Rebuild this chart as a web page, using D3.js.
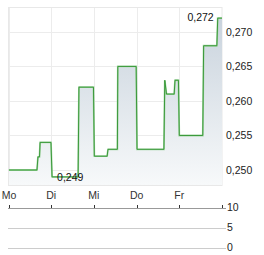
<!DOCTYPE html>
<html>
<head>
<meta charset="utf-8">
<script src="https://cdn.jsdelivr.net/npm/d3@7"></script>
<style>
    body {margin: 0; background: #fff;}
    svg {display: block; font-family: "Liberation Sans", Arial, sans-serif;}
</style>
</head>
<body>
<svg id="chart" width="264" height="255"></svg>
<script>
// day labels, one per trading day
let days = ["Mo", "Di", "Mi", "Do", "Fr"]
// time in fractional days since Monday open
let times = [0.01, 0.667, 0.69, 0.726, 0.74, 0.995, 1.02, 1.63, 1.65, 1.99, 2.01, 2.31, 2.33, 2.55, 2.56, 2.99,
    3.01, 3.64, 3.66, 3.70, 3.88, 3.90, 3.98, 4.0, 4.55, 4.57, 4.88, 4.90, 5.0]
let prices = [0.250, 0.250, 0.2519, 0.2519, 0.254, 0.254, 0.249, 0.249, 0.262, 0.262, 0.252, 0.252, 0.253, 0.253, 0.265, 0.265,
    0.253, 0.253, 0.263, 0.261, 0.261, 0.263, 0.263, 0.255, 0.255, 0.268, 0.268, 0.272, 0.272]
let priceTicks = [0.250, 0.255, 0.260, 0.265, 0.270]
let volumeTicks = [0, 5, 10]
let maxLabel = 0.272
let minLabel = 0.249

let margin = ({top: 7, right: 42, bottom: 70, left: 8})
let width = 264, height = 255
const svg = d3.select("#chart")

let x = d3.scaleLinear()
    .domain([0, 5])
    .range([margin.left + 0.5, 222])
let y = d3.scaleLinear()
    .domain([0.24783, 0.27361])
    .range([185, 7])
let yv = d3.scaleLinear()
    .domain([0, 10])
    .range([247.5, 207.5])

let fmt = v => d3.format(".3f")(v).replace(".", ",")

// gradient for area
let defs = svg.append("defs")
let grad = defs.append("linearGradient")
    .attr("id", "fill").attr("x1", 0).attr("x2", 0).attr("y1", 0).attr("y2", 1)
grad.append("stop").attr("offset", "0%").attr("stop-color", "#c9d3dd")
grad.append("stop").attr("offset", "100%").attr("stop-color", "#f7f9fa")

// grid
svg.append("g")
    .selectAll("line")
    .data(priceTicks)
    .join("line")
    .attr("x1", 8).attr("x2", 222)
    .attr("y1", d => Math.round(y(d)) + 0.5)
    .attr("y2", d => Math.round(y(d)) + 0.5)
    .attr("stroke", "#ececec")

svg.append("g")
    .selectAll("line")
    .data(d3.range(days.length))
    .join("line")
    .attr("x1", d => Math.round(x(d)) + 0.5)
    .attr("x2", d => Math.round(x(d)) + 0.5)
    .attr("y1", 7).attr("y2", 185)
    .attr("stroke", "#ececec")

svg.append("rect")
    .attr("x", 8.5).attr("y", 7.5)
    .attr("width", 213.5).attr("height", 178)
    .attr("fill", "none")
    .attr("stroke", "#e8e8e8")

let data = times.map((t, i) => ({t: t, v: prices[i]}))

let area = d3.area()
    .x(d => x(d.t))
    .y0(185)
    .y1(d => y(d.v))
svg.append("path")
    .datum(data)
    .attr("d", area)
    .attr("fill", "url(#fill)")

let line = d3.line()
    .x(d => x(d.t))
    .y(d => y(d.v))
svg.append("path")
    .datum(data)
    .attr("d", line)
    .attr("fill", "none")
    .attr("stroke", "#a3d6a3")
    .attr("stroke-width", 1.8)
svg.append("path")
    .datum(data)
    .attr("d", line)
    .attr("fill", "none")
    .attr("stroke", "#2f922f")
    .attr("stroke-width", 0.9)

// price axis on the right
svg.append("g")
    .attr("font-size", 10.5)
    .attr("fill", "#222")
    .selectAll("text")
    .data(priceTicks)
    .join("text")
    .attr("x", 226)
    .attr("y", d => y(d))
    .attr("dy", "0.35em")
    .text(fmt)

// hi / lo labels
let hi = data.find(d => d.v === maxLabel)
let lo = data.find(d => d.v === minLabel)
svg.append("text")
    .attr("x", x(hi.t) - 4)
    .attr("y", 17)
    .attr("dy", "0.35em")
    .attr("text-anchor", "end")
    .attr("font-size", 10.5)
    .attr("fill", "#111")
    .text(fmt(maxLabel))
svg.append("text")
    .attr("x", x(lo.t) + 5)
    .attr("y", y(minLabel))
    .attr("dy", "0.35em")
    .attr("font-size", 10.5)
    .attr("fill", "#111")
    .text(fmt(minLabel))

// day labels
svg.append("g")
    .attr("font-size", 10.5)
    .attr("fill", "#333")
    .attr("text-anchor", "middle")
    .selectAll("text")
    .data(days)
    .join("text")
    .attr("x", (d, i) => x(i) + (i === 0 ? 0.5 : 0))
    .attr("y", 195)
    .attr("dy", "0.35em")
    .text(d => d)

// volume panel
svg.append("g")
    .selectAll("line")
    .data(volumeTicks)
    .join("line")
    .attr("x1", 8).attr("x2", 226)
    .attr("y1", d => Math.round(yv(d)) + 0.5)
    .attr("y2", d => Math.round(yv(d)) + 0.5)
    .attr("stroke", d => d === 10 ? "#999" : "#ccc")

svg.append("g")
    .selectAll("line")
    .data(d3.range(days.length))
    .join("line")
    .attr("x1", d => Math.round(x(d)) + 0.5)
    .attr("x2", d => Math.round(x(d)) + 0.5)
    .attr("y1", 205).attr("y2", 208)
    .attr("stroke", "#333")

svg.append("line")
    .attr("x1", 222.5).attr("x2", 222.5)
    .attr("y1", 205).attr("y2", 208)
    .attr("stroke", "#333")

svg.append("g")
    .attr("font-size", 10.5)
    .attr("fill", "#222")
    .selectAll("text")
    .data(volumeTicks)
    .join("text")
    .attr("x", 227)
    .attr("y", d => yv(d))
    .attr("dy", "0.35em")
    .text(d => d)
</script>
</body>
</html>
